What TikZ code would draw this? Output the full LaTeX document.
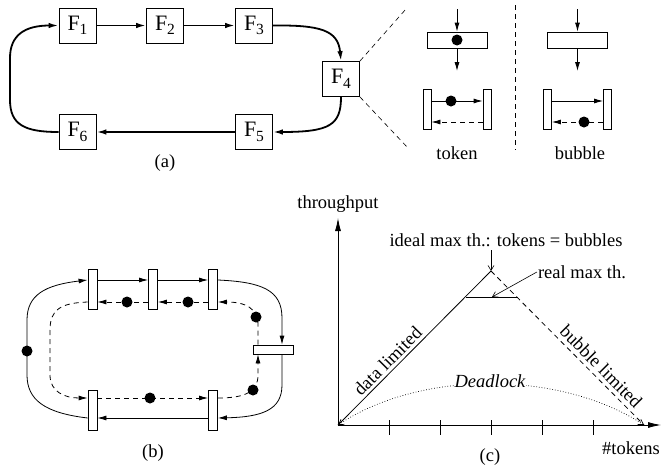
\documentclass[tikz,border=0pt]{standalone}
\usepackage{fontspec}
\setmainfont{Liberation Serif}
\usetikzlibrary{arrows.meta}
\newcommand\Fs[1]{F\raisebox{-0.45ex}{\fontsize{15.5}{15.5}\selectfont#1}}
\begin{document}
\begin{tikzpicture}[x=1pt,y=-1pt,
  every node/.style={font=\fontsize{18.5}{20}\selectfont},
  fbox/.style={draw, line width=0.8pt, minimum width=37pt, minimum height=35pt, inner sep=0pt, font=\fontsize{22}{24}\selectfont},
  thickarr/.style={line width=1.8pt, -{Latex[length=10pt,width=5.5pt]}},
  arr/.style={line width=0.8pt, -{Latex[length=9pt,width=5pt]}},
  axarr/.style={line width=0.8pt, -{Latex[length=13pt,width=6pt]}},
  thinarr/.style={line width=0.6pt, -{Straight Barb[length=5pt,width=6pt]}},
  dsh/.style={dash pattern=on 5pt off 4pt},
  vbar/.style={draw, line width=0.8pt, minimum width=9pt, minimum height=40pt, inner sep=0pt},
  hbar/.style={draw, line width=0.8pt, minimum width=60pt, minimum height=16pt, inner sep=0pt},
  hbarb/.style={draw, line width=0.8pt, minimum width=40pt, minimum height=9pt, inner sep=0pt},
  dot/.style={circle, fill=black, minimum size=11pt, inner sep=0pt},
  lbl/.style={inner sep=1pt},
]
\useasboundingbox (0,0) rectangle (662,474);

% ---------------- (a)
\node[fbox] (F1) at (77.5,25.5) {\Fs1};
\node[fbox] (F2) at (165,25.5) {\Fs2};
\node[fbox] (F3) at (254,25.5) {\Fs3};
\node[fbox] (F4) at (341,79) {\Fs4};
\node[fbox] (F5) at (254,132) {\Fs5};
\node[fbox] (F6) at (77.5,132) {\Fs6};
\draw[thickarr] (F1) -- (F2);
\draw[thickarr] (F2) -- (F3);
\draw[thickarr] (F3.east) .. controls (320,25) and (338,30) .. (F4.north);
\draw[thickarr] (F4.south) .. controls (341,125) and (330,132) .. (F5.east);
\draw[thickarr] (F5) -- (F6);
\draw[thickarr] (F6.west) .. controls (25,132) and (10,125) .. (10,100) -- (10,58)
   .. controls (10,35) and (25,25.5) .. (F1.west);
\node[lbl] (la) at (165,163) {(a)};
\coordinate (z1) at (406,9);
\coordinate (z2) at (408,148);
\draw[dsh, line width=0.6pt] (F4.north east) -- (z1);
\draw[dsh, line width=0.6pt] (F4.south east) -- (z2);
\coordinate (dv1) at (515,5);
\coordinate (dv2) at (515,150);
\draw[dsh, line width=0.6pt] (dv1) -- (dv2);

% token
\node[hbar] (tk) at (457,40) {};
\node[dot] (tkd) at (457,40) {};
\coordinate (tkin) at (457,9);
\coordinate (tkout) at (457,71);
\draw[arr] (tkin) -- (tk.north);
\draw[arr] (tk.south) -- (tkout);
\node[vbar, minimum width=8pt] (tl) at (427,109) {};
\node[vbar, minimum width=8pt] (tr) at (487,109) {};
\draw[arr] ([yshift=8pt]tl.east) -- ([yshift=8pt]tr.west);
\node[dot] (tld) at (451,101) {};
\draw[arr,dsh] ([yshift=-13pt]tr.west) -- ([yshift=-13pt]tl.east);
\node[lbl] (ltk) at (457,153) {token};

% bubble
\node[hbar] (bb) at (577.5,40) {};
\coordinate (bbin) at (577.5,9);
\coordinate (bbout) at (577.5,71);
\draw[arr] (bbin) -- (bb.north);
\draw[arr] (bb.south) -- (bbout);
\node[vbar, minimum width=8pt] (bl) at (547.5,109) {};
\node[vbar, minimum width=8pt] (br) at (607.5,109) {};
\draw[arr] ([yshift=8pt]bl.east) -- ([yshift=8pt]br.west);
\draw[arr,dsh] ([yshift=-13pt]br.west) -- ([yshift=-13pt]bl.east);
\node[dot] (brd) at (584,122) {};
\node[lbl] (lbb) at (580,153) {bubble};

% ---------------- (b)
\node[vbar] (r1) at (92.5,289) {};
\node[vbar] (r2) at (153,289) {};
\node[vbar] (r3) at (213,289) {};
\node[vbar] (b1) at (92.5,410) {};
\node[vbar] (b3) at (213,410) {};
\node[hbarb] (h) at (273,349.5) {};
% solid outer
\draw[arr] ([yshift=9pt]r1.east) -- ([yshift=9pt]r2.west);
\draw[arr] ([yshift=9pt]r2.east) -- ([yshift=9pt]r3.west);
\draw[arr] ([yshift=9pt]r3.east) .. controls (262,282) and (282,290) .. (282,318) -- ([xshift=9pt]h.north);
\draw[arr] ([xshift=9pt]h.south) -- (282,385) .. controls (282,410) and (262,417) .. ([yshift=-8pt]b3.east);
\draw[arr] ([yshift=-8pt]b3.west) -- ([yshift=-8pt]b1.east);
\draw[arr] ([yshift=-8pt]b1.west) .. controls (45,413) and (27,400) .. (27,375) -- (27,320)
   .. controls (27,295) and (45,285) .. ([yshift=9pt]r1.west);
\node[dot] (bd0) at (27,351) {};
% dashed inner
\draw[arr,dsh] ([yshift=-13pt]r3.west) -- ([yshift=-13pt]r2.east);
\draw[arr,dsh] ([yshift=-13pt]r2.west) -- ([yshift=-13pt]r1.east);
\node[dot] (bd1) at (127,302) {};
\node[dot] (bd2) at (188,302) {};
\draw[arr,dsh] ([yshift=-13pt]r1.west) .. controls (60,303) and (50,310) .. (50,330) -- (50,375)
   .. controls (50,392) and (65,398) .. ([yshift=12pt]b1.west);
\draw[arr,dsh] ([yshift=12pt]b1.east) -- ([yshift=12pt]b3.west);
\node[dot] (bd3) at (150,398) {};
\draw[arr,dsh] ([yshift=12pt]b3.east) .. controls (245,398) and (258,392) .. (258,375) -- ([xshift=-15pt]h.south);
\node[dot] (bd4) at (253,390) {};
\draw[arr,dsh] ([xshift=-15pt]h.north) -- (258,325) .. controls (258,308) and (245,302) .. ([yshift=-13pt]r3.east);
\node[dot] (bd5) at (256,317) {};
\node[lbl] (lb) at (153,453) {(b)};

% ---------------- (c)
\coordinate (O) at (338,425);
\coordinate (Y) at (338,218);
\coordinate (X) at (661,425);
\coordinate (P) at (491,271);
\coordinate (E) at (644,425);
\draw[axarr] (O) -- (Y);
\draw[axarr] (O) -- (X);
\foreach \tx in {389,440,491,542,593} {\draw[line width=0.8pt] (\tx,420) -- (\tx,435);}
\draw[line width=0.8pt] (O) -- node[pos=0.37, sloped, above, inner sep=3pt] {data limited} (P);
\draw[line width=0.8pt, dsh] (P) -- node[pos=0.67, sloped, above, inner sep=4pt] {bubble limited} (E);
\coordinate (A) at (466,297);
\coordinate (B) at (518,297);
\coordinate (M) at (492,297);
\draw[line width=0.8pt] (A) -- (B);
\node[lbl] (ideal) at (506,240) {ideal max th.: tokens = bubbles};
\draw[thinarr] (491,250) -- (P);
\node[lbl] (rmax) at (582,272) {real max th.};
\draw[thinarr] (rmax.west) -- (M);
\draw[line width=0.7pt, dotted, {Straight Barb[length=5pt,width=6pt]}-{Straight Barb[length=5pt,width=6pt]}]
   (O) .. controls (420,370) and (560,370) .. (E);
\node[lbl, fill=white, font=\fontsize{18.5}{20}\selectfont\itshape] (dl) at (490,381) {Deadlock};
\node[lbl] (thr) at (338,204) {throughput};
\node[lbl] (tok) at (631,448) {\#tokens};
\node[lbl] (lc) at (490,457) {(c)};
\end{tikzpicture}
\end{document}
